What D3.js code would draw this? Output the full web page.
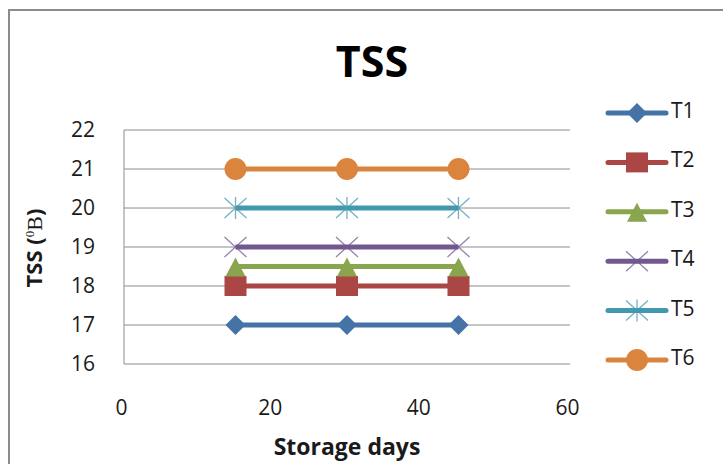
<!DOCTYPE html>
<html>
<head>
<meta charset="utf-8">
<script src="https://cdn.jsdelivr.net/npm/d3@7"></script>
<style>
  html, body { margin: 0; padding: 0; background: #fff; }
  svg { display: block; font-family: "Open Sans", "Noto Sans", sans-serif; }
</style>
</head>
<body>
<svg id="chart" width="723" height="464"></svg>
<script>
// Storage days and TSS readings for each treatment
const days = [15, 30, 45];
const seriesNames = ["T1", "T2", "T3", "T4", "T5", "T6"];
const t1 = [17, 17, 17];
const t2 = [18, 18, 18];
const t3 = [18.5, 18.5, 18.5];
const t4 = [19, 19, 19];
const t5 = [20, 20, 20];
const t6 = [21, 21, 21];
const xTicks = [0, 20, 40, 60];
const yTicks = [16, 17, 18, 19, 20, 21, 22];

const seriesValues = [t1, t2, t3, t4, t5, t6];
const colors = ["#4572A7", "#AA4643", "#89A54E", "#71588F", "#4198AF", "#DB843D"];
const shapes = ["diamond", "square", "triangle", "x", "star", "circle"];

const svg = d3.select("#chart");

// outer chart frame
svg.append("rect")
  .attr("x", 9).attr("y", 10).attr("width", 730).attr("height", 470)
  .attr("fill", "#fff").attr("stroke", "#8c8c8c").attr("stroke-width", 2);

const plot = { left: 124, right: 570, top: 130, bottom: 364 };
const x = d3.scaleLinear().domain([0, 60]).range([plot.left, plot.right]);
const y = d3.scaleLinear().domain([16, 22]).range([plot.bottom, plot.top]);

// horizontal gridlines
svg.append("g").selectAll("line").data(yTicks).join("line")
  .attr("x1", plot.left).attr("x2", plot.right)
  .attr("y1", d => y(d)).attr("y2", d => y(d))
  .attr("stroke", "#8c8c8c").attr("stroke-width", 1);

// vertical axis line
svg.append("line")
  .attr("x1", plot.left).attr("x2", plot.left)
  .attr("y1", plot.top).attr("y2", plot.bottom)
  .attr("stroke", "#8c8c8c").attr("stroke-width", 1);

// y tick labels
const yAxis = d3.axisLeft(y).tickValues(yTicks).tickFormat(d3.format("d")).tickSize(0).tickPadding(29);
const gy = svg.append("g").attr("transform", `translate(${plot.left},0)`).call(yAxis);
gy.select(".domain").remove();
gy.selectAll("text").attr("font-size", 21).attr("fill", "#1a1a1a")
  .style("font-family", "'Open Sans', sans-serif");

// x tick labels
const xAxis = d3.axisBottom(x).tickValues(xTicks).tickFormat(d3.format("d")).tickSize(0).tickPadding(36);
const gx = svg.append("g").attr("transform", `translate(0,${plot.bottom})`).call(xAxis);
gx.select(".domain").remove();
gx.selectAll("text").attr("font-size", 21).attr("fill", "#1a1a1a")
  .attr("dx", -3)
  .style("font-family", "'Open Sans', sans-serif");

// title
svg.append("text").attr("x", 372).attr("y", 77).attr("text-anchor", "middle")
  .attr("font-size", 43).attr("font-weight", "bold").attr("fill", "#000")
  .text("TSS");

// axis titles
svg.append("text").attr("x", 347).attr("y", 455).attr("text-anchor", "middle")
  .attr("font-size", 23).attr("font-weight", "bold").attr("fill", "#1a1a1a")
  .text("Storage days");

const yt = svg.append("text")
  .attr("transform", "translate(42,248) rotate(-90)")
  .attr("text-anchor", "middle")
  .attr("font-size", 22).attr("font-weight", "bold").attr("fill", "#1a1a1a");
yt.append("tspan").text("TSS (");
yt.append("tspan").attr("font-size", 13).attr("dy", -8).attr("font-weight", "normal")
  .style("font-family", "'Liberation Serif', serif").text("0");
yt.append("tspan").attr("dy", 8).attr("font-weight", "normal")
  .style("font-family", "'Liberation Serif', serif").text("B");
yt.append("tspan").text(")");

// marker drawing
function drawMarker(g, shape, color) {
  switch (shape) {
    case "diamond":
      g.append("path").attr("d", "M0,-10L10,0L0,10L-10,0Z").attr("fill", color);
      break;
    case "square":
      g.append("rect").attr("x", -11).attr("y", -10).attr("width", 22).attr("height", 20).attr("fill", color);
      break;
    case "triangle":
      g.append("path").attr("d", "M0,-9L10,10L-10,10Z").attr("fill", color);
      break;
    case "x":
      g.append("path").attr("d", "M-11,-10L11,10M-11,10L11,-10")
        .attr("stroke", color).attr("stroke-width", 1.3).attr("fill", "none").attr("opacity", 0.75);
      break;
    case "star":
      g.append("path").attr("d", "M-11,-10L11,10M-11,10L11,-10M0,-11L0,11")
        .attr("stroke", color).attr("stroke-width", 1.3).attr("fill", "none").attr("opacity", 0.75);
      break;
    case "circle":
      g.append("circle").attr("r", 11).attr("fill", color);
      break;
  }
}

const line = d3.line().x(d => x(d[0])).y(d => y(d[1]));

seriesNames.forEach((name, i) => {
  const pts = days.map((d, j) => [d, seriesValues[i][j]]);
  svg.append("path").datum(pts).attr("d", line)
    .attr("fill", "none").attr("stroke", colors[i]).attr("stroke-width", 5);
  pts.forEach(p => {
    const g = svg.append("g").attr("transform", `translate(${x(p[0])},${y(p[1])})`);
    drawMarker(g, shapes[i], colors[i]);
  });
});

// legend
const legendY = d3.scalePoint().domain(seriesNames).range([113, 360]);
seriesNames.forEach((name, i) => {
  const ly = legendY(name);
  svg.append("line").attr("x1", 608).attr("x2", 666).attr("y1", ly).attr("y2", ly)
    .attr("stroke", colors[i]).attr("stroke-width", 5).attr("stroke-linecap", "round");
  const g = svg.append("g").attr("transform", `translate(637,${ly})`);
  drawMarker(g, shapes[i], colors[i]);
  svg.append("text").attr("x", 671).attr("y", ly + 5)
    .attr("font-size", 21).attr("fill", "#1a1a1a").text(name);
});
</script>
</body>
</html>
